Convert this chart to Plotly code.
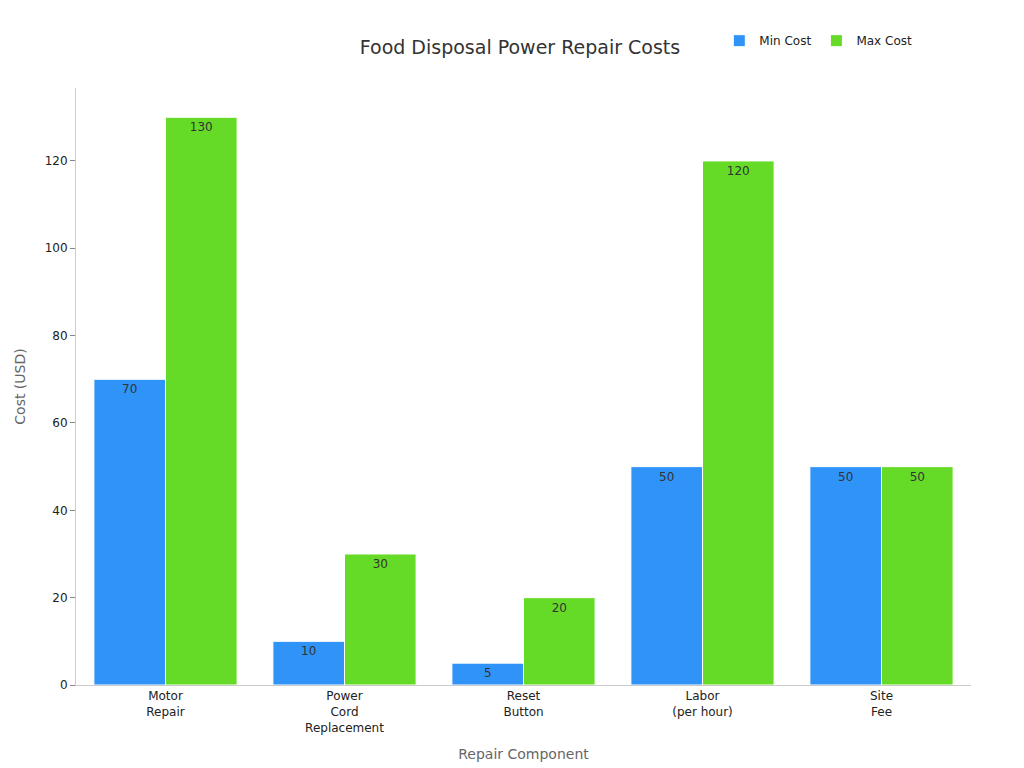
import plotly.graph_objects as go

categories = ["Motor<br>Repair", "Power<br>Cord<br>Replacement", "Reset<br>Button", "Labor<br>(per hour)", "Site<br>Fee"]
min_cost = [70, 10, 5, 50, 50]
max_cost = [130, 30, 20, 120, 50]

fig = go.Figure()
fig.add_trace(go.Bar(x=categories, y=min_cost, name="Min Cost", marker_color="#2f93f7",
                     marker_line_color="white", marker_line_width=1,
                     text=min_cost, textposition="inside", insidetextanchor="end",
                     textfont=dict(color="#333333", size=12)))
fig.add_trace(go.Bar(x=categories, y=max_cost, name="Max Cost", marker_color="#66db27",
                     marker_line_color="white", marker_line_width=1,
                     text=max_cost, textposition="inside", insidetextanchor="end",
                     textfont=dict(color="#333333", size=12)))

fig.update_layout(
    width=1024, height=768,
    barmode="group", bargap=0.2, bargroupgap=0,
    font=dict(family="DejaVu Sans", size=12, color="#222222"),
    title=dict(text="Food Disposal Power Repair Costs", x=0.5, y=0.957, xanchor="center",
               font=dict(size=19, color="#333333")),
    legend=dict(orientation="h", x=0.94, xanchor="right", y=1.055, yanchor="bottom",
                font=dict(size=12)),
    margin=dict(l=68, r=61, t=80, b=91),
    plot_bgcolor="white", paper_bgcolor="white",
    xaxis=dict(title=dict(text="Repair Component", font=dict(size=14, color="#666666")),
               showline=True, linecolor="#cccccc", ticks="", tickfont=dict(size=12)),
    yaxis=dict(title=dict(text="Cost (USD)", font=dict(size=14, color="#666666")),
               range=[0, 136.7], dtick=20, showgrid=False, showline=True, linecolor="#cccccc",
               ticks="outside", ticklen=5, tickcolor="#888888", tickfont=dict(size=12)),
)
fig.update_traces(cliponaxis=False)
fig.write_html("out.html")
